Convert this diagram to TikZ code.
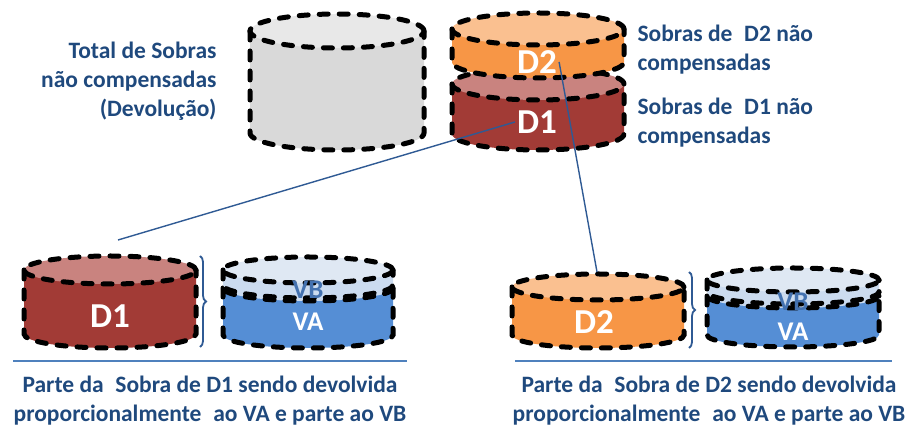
\documentclass[tikz,border=0pt]{standalone}
\usepackage{fontspec}
\setmainfont{Carlito}
\usetikzlibrary{decorations.pathreplacing}

\definecolor{txtblue}{HTML}{1F497D}
\definecolor{linkblue}{HTML}{2F5A94}
\definecolor{ruleblue}{HTML}{4F81BD}
\definecolor{grayBody}{HTML}{D9D9D9}
\definecolor{grayTop}{HTML}{E8E8E8}
\definecolor{redBody}{HTML}{A23B36}
\definecolor{redTop}{HTML}{C9837F}
\definecolor{orgBody}{HTML}{F79646}
\definecolor{orgTop}{HTML}{FAC090}
\definecolor{vaBody}{HTML}{558ED5}
\definecolor{vbBody}{HTML}{CBDBEF}
\definecolor{vbTop}{HTML}{DFE8F3}
\definecolor{vbText}{HTML}{4472B0}

\tikzset{
  cylline/.style={black, line width=5pt, dash pattern=on 9pt off 11pt, line cap=round},
  link/.style={draw=linkblue, line width=1.4pt},
  sepline/.style={draw=ruleblue, line width=1.2pt},
  bracket/.style={draw=linkblue, line width=1.8pt, decorate, decoration={brace, amplitude=6pt}},
  note/.style={text=txtblue, font=\fontsize{23.5}{29}\selectfont\bfseries},
  bigtag/.style={text=white, inner sep=2pt, font=\fontsize{35}{35}\selectfont\bfseries},
  midtag/.style={inner sep=1pt, font=\fontsize{27}{27}\selectfont\bfseries},
}

% #1 cx, #2 top y, #3 bottom y, #4 rx, #5 ry, #6 body, #7 top
\newcommand{\cylinder}[7]{%
  \fill[#6] (#1-#4,#2) -- (#1-#4,#3) arc[start angle=180, end angle=360, x radius=#4, y radius=#5] -- (#1+#4,#2) -- cycle;
  \fill[#7] (#1,#2) ellipse [x radius=#4, y radius=#5];
  \draw[cylline] (#1,#2) ellipse [x radius=#4, y radius=#5];
  \draw[cylline] (#1-#4,#2) -- (#1-#4,#3) arc[start angle=180, end angle=360, x radius=#4, y radius=#5] -- (#1+#4,#2);
}

\begin{document}
\begin{tikzpicture}[x=1pt, y=1pt]
  \useasboundingbox (0,0) rectangle (912,430);
  % top row
  \cylinder{337}{399}{297}{87}{17}{grayBody}{grayTop}            % total
  \cylinder{538}{346}{296}{86}{16}{redBody}{redTop}              % D1
  \cylinder{538}{401}{368}{86}{16}{orgBody}{orgTop}              % D2
  \node[bigtag] (d2top) at (537,368) {D2};
  \node[bigtag] (d1top) at (537,308) {D1};
  \node[note, anchor=east, align=right] (lblTotal) at (220,349)
       {Total de Sobras\\não compensadas\\(Devolução)};
  \node[note, anchor=west, align=left] (lblD2) at (634,380)
       {Sobras de\enspace D2 não\\compensadas};
  \node[note, anchor=west, align=left] (lblD1) at (634,307)
       {Sobras de\enspace D1 não\\compensadas};
  % bottom left
  \cylinder{110}{160}{96}{86}{14}{redBody}{redTop}               % D1 part
  \node[bigtag] (d1part) at (110,114) {D1};
  \cylinder{308}{142}{95}{85}{13}{vaBody}{vbBody}                % VA
  \cylinder{308}{160}{145}{85}{13}{vbBody}{vbTop}                % VB
  \node[midtag, text=vbText] (vbleft) at (308,140) {VB};
  \node[midtag, text=white] (valeft) at (308,108) {VA};
  \draw[bracket] (200,174) -- (200,83);
  \draw[sepline] (13,69) -- (407,69);
  \node[note, align=center] (capLeft) at (210,29)
       {Parte da\enspace Sobra de D1 sendo devolvida\\proporcionalmente\enspace ao VA e parte ao VB};
  % bottom right
  \cylinder{598}{143}{95}{86}{13}{orgBody}{orgTop}               % D2 part
  \node[bigtag] (d2part) at (594,108) {D2};
  \cylinder{793}{134}{95}{86}{12}{vaBody}{vbBody}                % VA
  \cylinder{793}{150}{138}{86}{12}{vbBody}{vbTop}                % VB
  \node[midtag, text=vbText] (vbright) at (793,128) {VB};
  \node[midtag, text=white] (varight) at (793,98) {VA};
  \draw[bracket] (689,158) -- (689,82);
  \draw[sepline] (515,69) -- (892,69);
  \node[note, align=center] (capRight) at (709,29)
       {Parte da\enspace Sobra de D2 sendo devolvida\\proporcionalmente\enspace ao VA e parte ao VB};
  % links
  \coordinate (d1tail) at (118,190);
  \coordinate (d2head) at (597,158);
  \draw[link] (d1top.west) -- (d1tail);
  \draw[link] (d2top.east) -- (d2head);
\end{tikzpicture}
\end{document}
